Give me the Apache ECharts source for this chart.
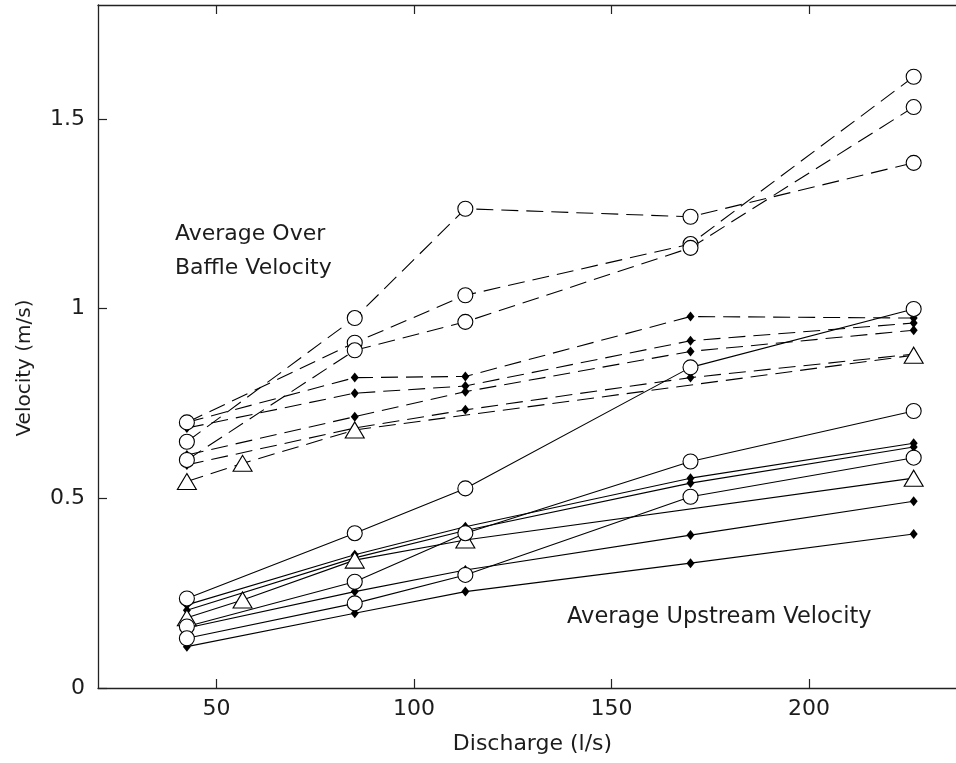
<!DOCTYPE html>
<html>
<head>
<meta charset="utf-8">
<script src="https://cdn.jsdelivr.net/npm/echarts@6/dist/echarts.min.js"></script>
<style>
html,body{margin:0;padding:0;background:#fff;overflow:hidden;width:956px;height:763px;}
#chart{width:980px;height:763px;}
</style>
</head>
<body>
<div id="chart"></div>
<script>
// ---- data ----
const discharge = [42.5, 85, 113, 170, 226.5];
const dischargeTriBaffle = [42.5, 56.6, 85, 226.5];
const dischargeTriUp = [42.5, 56.6, 85, 113, 226.5];

// Average over-baffle velocity (dashed)
const bCircle1 = [0.649, 0.975, 1.263, 1.242, 1.384];
const bCircle2 = [0.700, 0.910, 1.035, 1.170, 1.611];
const bCircle3 = [0.601, 0.890, 0.965, 1.160, 1.531];
const bDot1 = [0.700, 0.818, 0.821, 0.979, 0.975];
const bDot2 = [0.685, 0.777, 0.796, 0.915, 0.962];
const bDot3 = [0.614, 0.715, 0.781, 0.887, 0.943];
const bDot4 = [0.588, 0.685, 0.733, 0.818, 0.880];
const bTri = [0.544, 0.592, 0.680, 0.877];

// Average upstream velocity (solid)
const uCircle1 = [0.236, 0.408, 0.526, 0.845, 0.999];
const uCircle2 = [0.162, 0.280, 0.408, 0.597, 0.730];
const uCircle3 = [0.131, 0.223, 0.298, 0.504, 0.607];
const uDot1 = [0.219, 0.351, 0.425, 0.553, 0.645];
const uDot2 = [0.205, 0.343, 0.415, 0.540, 0.635];
const uDot3 = [0.158, 0.254, 0.311, 0.403, 0.492];
const uDot4 = [0.109, 0.197, 0.254, 0.329, 0.406];
const uTri = [0.185, 0.232, 0.337, 0.390, 0.553];

const xTicks = [50, 100, 150, 200];
const yTicks = [0, 0.5, 1, 1.5];
const xTitle = 'Discharge (l/s)';
const yTitle = 'Velocity (m/s)';
const noteBaffle = ['Average Over', 'Baffle Velocity'];
const noteUp = 'Average Upstream Velocity';

// ---- build ----
const FONT = 'DejaVu Sans';
const TXT = '#1c1c1c';
const DASH = [17, 8];

function pairs(xs, ys){ return xs.map((x,i)=>[x, ys[i]]); }
function mk(xs, ys, kind, dashed){
  const s = {
    type:'line', data: pairs(xs, ys), animation:false, silent:true,
    lineStyle:{color:'#000', width:1.1, type: dashed ? DASH : 'solid'},
    showAllSymbol:true
  };
  if(kind==='c'){ s.symbol='circle'; s.symbolSize=15; s.itemStyle={color:'#fff', borderColor:'#000', borderWidth:1.1}; }
  else if(kind==='t'){ s.symbol='triangle'; s.symbolSize=[19,16]; s.itemStyle={color:'#fff', borderColor:'#000', borderWidth:1.1}; }
  else { s.symbol='diamond'; s.symbolSize=[8,10]; s.itemStyle={color:'#000', borderColor:'#000', borderWidth:0}; }
  return s;
}

const series = [
  mk(discharge, bDot1, 'd', true),
  mk(discharge, bDot2, 'd', true),
  mk(discharge, bDot3, 'd', true),
  mk(discharge, bDot4, 'd', true),
  mk(dischargeTriBaffle, bTri, 't', true),
  mk(discharge, bCircle1, 'c', true),
  mk(discharge, bCircle2, 'c', true),
  mk(discharge, bCircle3, 'c', true),
  mk(discharge, uDot1, 'd', false),
  mk(discharge, uDot2, 'd', false),
  mk(discharge, uDot3, 'd', false),
  mk(discharge, uDot4, 'd', false),
  mk(dischargeTriUp, uTri, 't', false),
  mk(discharge, uCircle1, 'c', false),
  mk(discharge, uCircle2, 'c', false),
  mk(discharge, uCircle3, 'c', false)
];

const axLine = {show:true, onZero:false, lineStyle:{color:'#222', width:1.3}};
const tickIn = {show:true, inside:true, length:9, lineStyle:{color:'#222', width:1.2}};
const labelStyle = {fontFamily:FONT, fontSize:22, color:TXT};

const option = {
  animation:false,
  backgroundColor:'#fff',
  grid:{left:98, top:5, width:869, height:683, containLabel:false},
  xAxis:[
    {type:'value', min:20, max:240, position:'bottom',
     axisLine:axLine, splitLine:{show:false},
     axisTick:Object.assign({customValues:xTicks}, tickIn),
     axisLabel:Object.assign({customValues:xTicks, margin:10}, labelStyle),
     name:xTitle, nameLocation:'middle', nameGap:45,
     nameTextStyle:{fontFamily:FONT, fontSize:22, color:TXT}},
    {type:'value', min:20, max:240, position:'top',
     axisLine:axLine, splitLine:{show:false},
     axisTick:Object.assign({customValues:xTicks}, tickIn),
     axisLabel:{show:false}}
  ],
  yAxis:[
    {type:'value', min:0, max:1.8, position:'left',
     axisLine:axLine, splitLine:{show:false},
     axisTick:Object.assign({customValues:yTicks}, tickIn),
     axisLabel:Object.assign({customValues:yTicks, margin:13}, labelStyle)},
    {type:'value', min:0, max:1.8, position:'right',
     axisLine:axLine, splitLine:{show:false},
     axisTick:Object.assign({customValues:yTicks}, tickIn),
     axisLabel:{show:false}}
  ],
  graphic:[
    {type:'text', x:25, y:368, rotation:Math.PI/2,
     style:{text:yTitle, font:'20px "DejaVu Sans"', fill:TXT, textAlign:'center', textVerticalAlign:'middle'}},
    {type:'text', x:175, y:234,
     style:{text:noteBaffle[0], font:'22px "DejaVu Sans"', fill:TXT, textAlign:'left', textVerticalAlign:'middle'}},
    {type:'text', x:175, y:268,
     style:{text:noteBaffle[1], font:'22px "DejaVu Sans"', fill:TXT, textAlign:'left', textVerticalAlign:'middle'}},
    {type:'text', x:567, y:617,
     style:{text:noteUp, font:'22.5px "DejaVu Sans"', fill:TXT, textAlign:'left', textVerticalAlign:'middle'}}
  ],
  series: series
};

const chart = echarts.init(document.getElementById('chart'), null, {renderer:'canvas'});
chart.setOption(option);
</script>
</body>
</html>
